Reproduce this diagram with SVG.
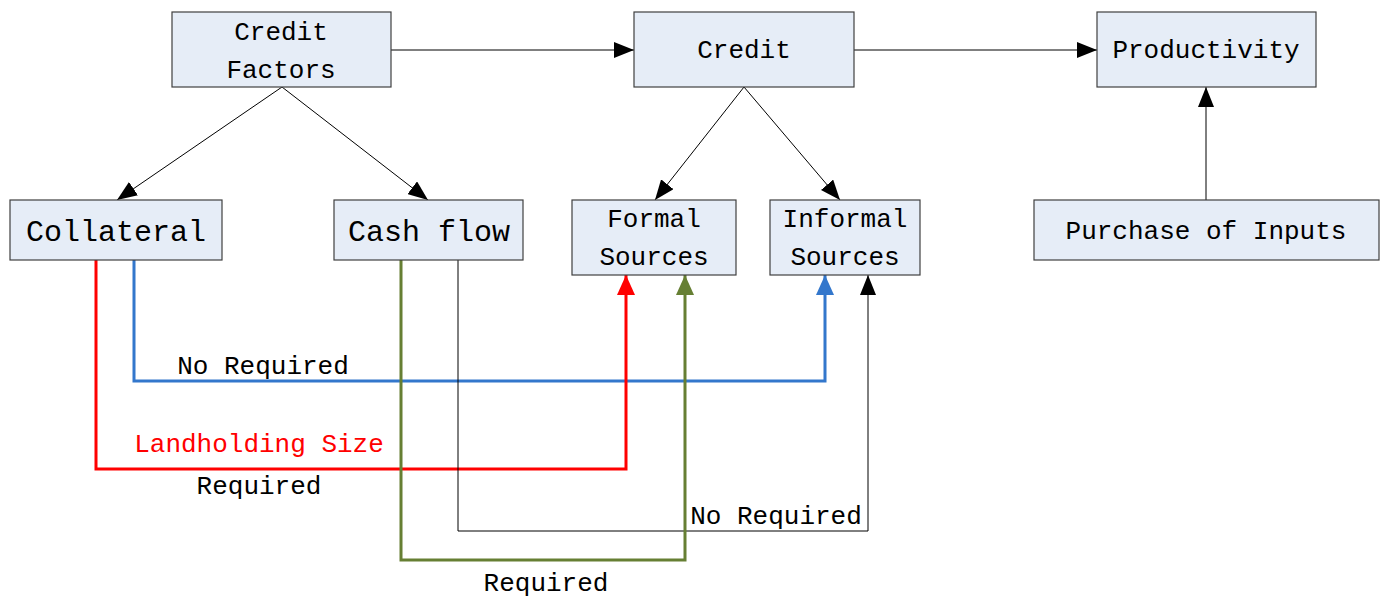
<svg xmlns="http://www.w3.org/2000/svg" width="1381" height="598" viewBox="0 0 1381 598">
<style>
.box{fill:#E6EDF7;stroke:#404040;stroke-width:1.2}
.t{font-family:"Liberation Mono","DejaVu Sans Mono",monospace;font-size:26px;fill:#000;text-anchor:middle}
.big{font-size:30px}
.c{fill:none;stroke:#000;stroke-width:1}
</style>
<defs>
<marker id="ak" markerUnits="userSpaceOnUse" markerWidth="22" markerHeight="16" refX="20" refY="8" orient="auto"><path d="M0,0 L20,8 L0,16 z" fill="#000"/></marker>
<marker id="ar" markerUnits="userSpaceOnUse" markerWidth="22" markerHeight="18" refX="20" refY="9" orient="auto"><path d="M0,0 L20,9 L0,18 z" fill="#FF0000"/></marker>
<marker id="ab" markerUnits="userSpaceOnUse" markerWidth="22" markerHeight="18" refX="20" refY="9" orient="auto"><path d="M0,0 L20,9 L0,18 z" fill="#3377CC"/></marker>
<marker id="ag" markerUnits="userSpaceOnUse" markerWidth="22" markerHeight="18" refX="20" refY="9" orient="auto"><path d="M0,0 L20,9 L0,18 z" fill="#667F33"/></marker>
</defs>
<rect width="1381" height="598" fill="#fff"/>
<g id="connectors">
<path class="c" d="M391,50 H634" marker-end="url(#ak)"/>
<path class="c" d="M854,50 H1097" marker-end="url(#ak)"/>
<path class="c" d="M282,87 L117,200" marker-end="url(#ak)"/>
<path class="c" d="M282,87 L428,200" marker-end="url(#ak)"/>
<path class="c" d="M744,87 L655,200" marker-end="url(#ak)"/>
<path class="c" d="M744,87 L840,200" marker-end="url(#ak)"/>
<path class="c" d="M1206,200 V87" marker-end="url(#ak)"/>
<path d="M134,260 V381 H825 V275" fill="none" stroke="#3377CC" stroke-width="3" marker-end="url(#ab)"/>
<path d="M96,260 V469 H626 V275" fill="none" stroke="#FF0000" stroke-width="3" marker-end="url(#ar)"/>
<path class="c" d="M458,260 V531 H868 V275" marker-end="url(#ak)"/>
<path d="M401,260 V560 H685 V275" fill="none" stroke="#667F33" stroke-width="3" marker-end="url(#ag)"/>
<text class="t" x="263" y="374">No Required</text>
<text class="t" x="259" y="452" fill="#FF0000" style="fill:#FF0000">Landholding Size</text>
<text class="t" x="259" y="494">Required</text>
<text class="t" x="776" y="524">No Required</text>
<text class="t" x="546" y="591">Required</text>
</g>
<g id="credit-factors"><rect class="box" x="172" y="12" width="219" height="75"/><text class="t" x="281" y="40">Credit</text><text class="t" x="281" y="78">Factors</text></g>
<g id="credit"><rect class="box" x="634" y="12" width="220" height="75"/><text class="t" x="744" y="58">Credit</text></g>
<g id="productivity"><rect class="box" x="1097" y="12" width="219" height="75"/><text class="t" x="1206" y="58">Productivity</text></g>
<g id="collateral"><rect class="box" x="10" y="200" width="212" height="60"/><text class="t big" x="116" y="241">Collateral</text></g>
<g id="cash-flow"><rect class="box" x="334" y="200" width="189" height="60"/><text class="t big" x="429" y="241">Cash flow</text></g>
<g id="formal-sources"><rect class="box" x="572" y="200" width="164" height="75"/><text class="t" x="654" y="227">Formal</text><text class="t" x="654" y="265">Sources</text></g>
<g id="informal-sources"><rect class="box" x="770" y="200" width="150" height="75"/><text class="t" x="845" y="227">Informal</text><text class="t" x="845" y="265">Sources</text></g>
<g id="purchase-of-inputs"><rect class="box" x="1034" y="200" width="345" height="60"/><text class="t" x="1206" y="239">Purchase of Inputs</text></g>
</svg>
